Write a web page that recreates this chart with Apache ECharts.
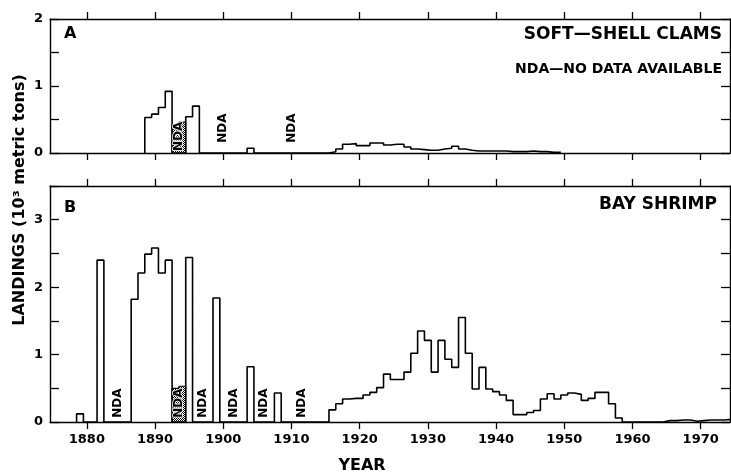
<!DOCTYPE html>
<html><head><meta charset="utf-8">
<script src="https://cdn.jsdelivr.net/npm/echarts@6/dist/echarts.min.js"></script>
<style>html,body{margin:0;padding:0;background:#fff}#c{width:731px;height:476px}</style>
</head><body><div id="c"></div>
<script>
// ---- data ----
const decadeTicks = [1880, 1890, 1900, 1910, 1920, 1930, 1940, 1950, 1960, 1970];

// A: soft-shell clams (10^3 metric tons)
const clamYears = [1889, 1890, 1891, 1892, 1895, 1896, 1904,
  1916, 1917, 1918, 1919, 1920, 1921, 1922, 1923, 1924, 1925, 1926, 1927, 1928, 1929,
  1930, 1931, 1932, 1933, 1934, 1935, 1936, 1937, 1938, 1939, 1940, 1941, 1942, 1943,
  1944, 1945, 1946, 1947, 1948, 1949];
const clamLandings = [0.53, 0.58, 0.68, 0.92, 0.54, 0.70, 0.07,
  0.02, 0.06, 0.13, 0.14, 0.11, 0.11, 0.15, 0.15, 0.12, 0.13, 0.13, 0.09, 0.06, 0.05,
  0.04, 0.04, 0.06, 0.07, 0.10, 0.06, 0.04, 0.03, 0.03, 0.03, 0.03, 0.03, 0.02, 0.02,
  0.02, 0.03, 0.02, 0.02, 0.01, 0.01];
const clamHatchYears = [1893, 1894];
const clamHatchLandings = [0.42, 0.46];
const clamNdaYears = [1893.5, 1900, 1910];

// B: bay shrimp (10^3 metric tons)
const shrimpYears = [1879, 1882, 1887, 1888, 1889, 1890, 1891, 1892, 1895, 1899, 1904, 1908,
  1916, 1917, 1918, 1919, 1920, 1921, 1922, 1923, 1924, 1925, 1926, 1927, 1928, 1929,
  1930, 1931, 1932, 1933, 1934, 1935, 1936, 1937, 1938, 1939, 1940, 1941, 1942, 1943,
  1944, 1945, 1946, 1947, 1948, 1949, 1950, 1951, 1952, 1953, 1954, 1955, 1956, 1957, 1958,
  1965, 1966, 1967, 1968, 1969, 1970, 1971, 1972, 1973, 1974];
const shrimpLandings = [0.12, 2.40, 1.82, 2.21, 2.49, 2.58, 2.21, 2.40, 2.44, 1.84, 0.82, 0.43,
  0.18, 0.27, 0.34, 0.35, 0.35, 0.40, 0.44, 0.51, 0.71, 0.63, 0.63, 0.74, 1.02, 1.35,
  1.21, 0.74, 1.21, 0.93, 0.81, 1.55, 1.02, 0.49, 0.81, 0.49, 0.45, 0.40, 0.32, 0.11,
  0.11, 0.14, 0.17, 0.34, 0.42, 0.34, 0.40, 0.43, 0.41, 0.32, 0.35, 0.44, 0.44, 0.27, 0.06,
  0.02, 0.02, 0.03, 0.03, 0.01, 0.02, 0.03, 0.03, 0.03, 0.04];
const shrimpHatchYears = [1893, 1894];
const shrimpHatchLandings = [0.50, 0.53];
const shrimpNdaYears = [1884.5, 1893.5, 1897, 1901.5, 1906, 1911.5];

// ---- helpers ----
function stepPath(years, vals) {
  const m = new Map();
  years.forEach((y, i) => m.set(y, vals[i]));
  const y0 = Math.min(...years), y1 = Math.max(...years);
  const pts = [[y0 - 0.5, 0]];
  for (let y = y0; y <= y1; y++) {
    const v = m.has(y) ? m.get(y) : 0;
    pts.push([y - 0.5, v], [y + 0.5, v]);
  }
  pts.push([y1 + 0.5, 0]);
  return pts;
}
const pc = document.createElement('canvas');
pc.width = 2; pc.height = 2;
const pctx = pc.getContext('2d');
pctx.fillStyle = '#fff'; pctx.fillRect(0, 0, 2, 2);
pctx.fillStyle = '#000'; pctx.fillRect(0, 0, 1, 1); pctx.fillRect(1, 1, 1, 1);

const INK = '#000';
const FONT = 'DejaVu Sans';
const XMIN = 1874.6, XMAX = 1974.3;

function xAx(grid, pos, labels) {
  return {
    type: 'value', gridIndex: grid, position: pos, min: XMIN, max: XMAX,
    axisLine: { show: true, onZero: false, lineStyle: { color: INK, width: 1.4 } },
    axisTick: { show: true, inside: false, length: 7, customValues: decadeTicks, lineStyle: { color: INK, width: 1.3 } },
    axisLabel: { show: labels, customValues: decadeTicks, margin: 11, color: INK,
      fontFamily: FONT, fontWeight: 'bold', fontSize: 13, formatter: v => String(Math.round(v)) },
    splitLine: { show: false }
  };
}
function yAx(grid, pos, max, labels) {
  return {
    type: 'value', gridIndex: grid, position: pos, min: 0, max: max, interval: 0.5,
    axisLine: { show: true, onZero: false, lineStyle: { color: INK, width: 1.4 } },
    axisTick: { show: true, inside: true, length: 9, lineStyle: { color: INK, width: 1.3 } },
    axisLabel: { show: labels, margin: 7, color: INK, fontFamily: FONT, fontWeight: 'bold', fontSize: 13,
      formatter: v => (Math.abs(v - Math.round(v)) < 1e-6 ? String(Math.round(v)) : '') },
    splitLine: { show: false }
  };
}
function stepSeries(xi, yi, pts, hatch) {
  return {
    type: 'line', xAxisIndex: xi, yAxisIndex: yi, data: pts, symbol: 'none',
    lineStyle: { color: INK, width: hatch ? 1.2 : 1.6 },
    areaStyle: hatch ? { color: { image: pc, repeat: 'repeat' }, opacity: 1 } : undefined,
    silent: true, z: hatch ? 2 : 3
  };
}
function ndaSeries(xi, yi, years, yFor) {
  return {
    type: 'scatter', xAxisIndex: xi, yAxisIndex: yi, symbolSize: 0,
    itemStyle: { color: INK, opacity: 1 }, z: 10, silent: true,
    data: years.map(y => [y, yFor(y)]),
    label: { show: true, formatter: 'NDA', rotate: 90, position: 'inside', color: INK,
      textBorderColor: '#fff', textBorderWidth: 1.5,
      fontFamily: FONT, fontWeight: 'bold', fontSize: 12 },
    labelLayout: { hideOverlap: false }
  };
}

const chart = echarts.init(document.getElementById('c'), null, { renderer: 'canvas' });
chart.setOption({
  animation: false,
  backgroundColor: '#fff',
  grid: [
    { left: 50, top: 19, width: 680, height: 134 },
    { left: 50, top: 186, width: 680, height: 236 }
  ],
  xAxis: [xAx(0, 'bottom', false), xAx(0, 'top', false), xAx(1, 'bottom', true), xAx(1, 'top', false)],
  yAxis: [yAx(0, 'left', 2, true), yAx(0, 'right', 2, false), yAx(1, 'left', 3.5, true), yAx(1, 'right', 3.5, false)],
  series: [
    stepSeries(0, 0, stepPath(clamHatchYears, clamHatchLandings), true),
    stepSeries(0, 0, stepPath(clamYears, clamLandings), false),
    stepSeries(2, 2, stepPath(shrimpHatchYears, shrimpHatchLandings), true),
    stepSeries(2, 2, stepPath(shrimpYears, shrimpLandings), false),
    ndaSeries(0, 0, clamNdaYears, y => (y > 1892 && y < 1895 ? 0.25 : 0.37)),
    ndaSeries(2, 2, shrimpNdaYears, y => 0.28)
  ],
  graphic: [
    { type: 'text', left: 64, top: 26, style: { text: 'A', fill: INK, font: 'bold 16px "DejaVu Sans"' } },
    { type: 'text', left: 64, top: 200, style: { text: 'B', fill: INK, font: 'bold 16px "DejaVu Sans"' } },
    { type: 'text', right: 9, top: 26, style: { text: 'SOFT—SHELL CLAMS', fill: INK, font: 'bold 17px "DejaVu Sans"' } },
    { type: 'text', right: 9, top: 62, style: { text: 'NDA—NO DATA AVAILABLE', fill: INK, font: 'bold 14px "DejaVu Sans"' } },
    { type: 'text', right: 14, top: 196, style: { text: 'BAY SHRIMP', fill: INK, font: 'bold 17px "DejaVu Sans"' } },
    { type: 'text', x: 362, y: 466, style: { text: 'YEAR', fill: INK, font: 'bold 16px "DejaVu Sans"', textAlign: 'center', textVerticalAlign: 'middle' } },
    { type: 'text', x: 20, y: 200, rotation: Math.PI / 2,
      style: { text: 'LANDINGS (10³ metric tons)', fill: INK, font: 'bold 16px "DejaVu Sans"', textAlign: 'center', textVerticalAlign: 'middle' } }
  ]
});
</script>
</body></html>
